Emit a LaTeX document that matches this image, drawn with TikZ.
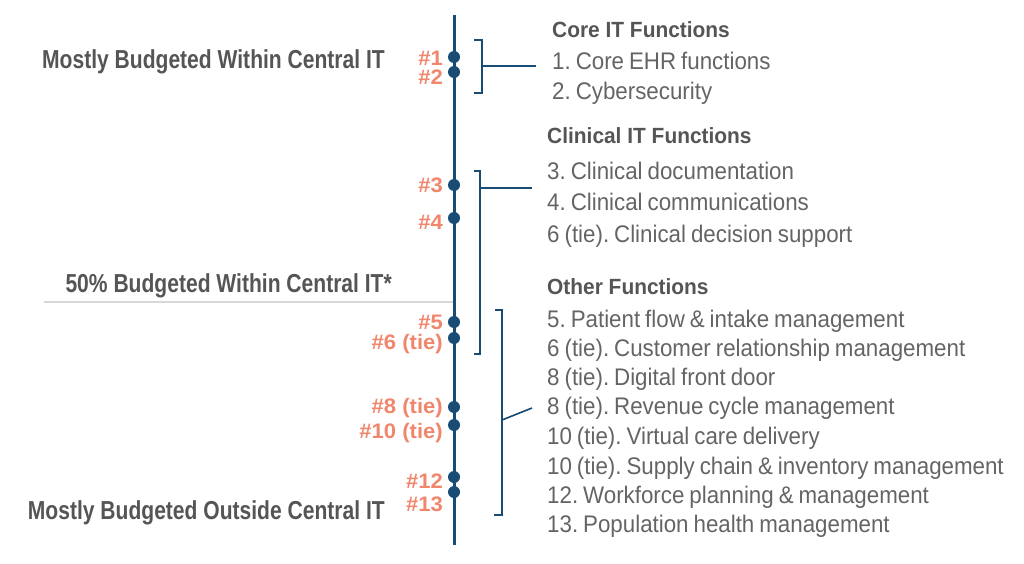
\documentclass[tikz,border=0pt]{standalone}
\usepackage{fontspec}
\setmainfont{Liberation Sans}
\frenchspacing
\newfontfamily\itemfnt[FakeStretch=0.93,WordSpace=0.8]{Liberation Sans}
\newfontfamily\sidefnt[FakeStretch=0.81]{Liberation Sans}
\newfontfamily\headfnt[FakeStretch=0.95]{Liberation Sans}
\newfontfamily\numfnt[FakeStretch=1.05]{Liberation Sans}
\definecolor{navy}{RGB}{24,76,116}
\definecolor{salmon}{RGB}{240,134,108}
\definecolor{dgray}{RGB}{85,85,85}
\definecolor{lgray}{RGB}{100,100,100}
\definecolor{sep}{RGB}{215,215,215}
\begin{document}
\begin{tikzpicture}[x=1pt,y=-1pt,
  dot/.style={circle,fill=navy,inner sep=0pt,minimum size=12pt},
  num/.style={anchor=base east,font=\numfnt\fontsize{21}{21}\selectfont\bfseries,text=salmon,inner sep=0pt},
  side/.style={anchor=base east,font=\sidefnt\fontsize{26}{26}\selectfont\bfseries,text=dgray,inner sep=0pt},
  head/.style={anchor=base west,font=\headfnt\fontsize{22}{22}\selectfont\bfseries,text=dgray,inner sep=0pt},
  item/.style={anchor=base west,font=\itemfnt\fontsize{24}{24}\selectfont\frenchspacing,text=lgray,inner sep=0pt},
  brk/.style={navy,line width=1.6pt}]
\useasboundingbox (0,0) rectangle (1024,564);
% separator
\draw[sep,line width=1.2pt] (44,302) -- (454,302);
% axis
\draw[navy,line width=3pt] (454,15) coordinate (top) -- (454,545) coordinate (bot);
% dots
\node[dot] (d1) at (454,57) {};
\node[dot] (d2) at (454,72) {};
\node[dot] (d3) at (454,185) {};
\node[dot] (d4) at (454,218) {};
\node[dot] (d5) at (454,322) {};
\node[dot] (d6) at (454,338) {};
\node[dot] (d8) at (454,407) {};
\node[dot] (d10) at (454,425) {};
\node[dot] (d12) at (454,477) {};
\node[dot] (d13) at (454,492) {};
% rank labels
\node[num] (n1) at (443,66) {\#1};
\node[num] (n2) at (443,85) {\#2};
\node[num] (n3) at (443,193) {\#3};
\node[num] (n4) at (443,229) {\#4};
\node[num] (n5) at (443,329) {\#5};
\node[num] (n6) at (443,349) {\#6 (tie)};
\node[num] (n8) at (443,413) {\#8 (tie)};
\node[num] (n10) at (443,438) {\#10 (tie)};
\node[num] (n12) at (443,488) {\#12};
\node[num] (n13) at (443,511) {\#13};
% side labels
\node[side] (s1) at (385,69) {Mostly Budgeted Within Central IT};
\node[side] (s2) at (392,292) {50\% Budgeted Within Central IT*};
\node[side] (s3) at (385,519) {Mostly Budgeted Outside Central IT};
% brackets
\draw[brk] (474,40) -- (482,40) -- (482,93) -- (474,93);
\draw[brk] (482,66) -- (536,66) coordinate (c1);
\draw[brk] (474,171) -- (480,171) -- (480,354) -- (474,354);
\draw[brk] (480,188) -- (532,188) coordinate (c2);
\draw[brk] (495,310) -- (502,310) -- (502,515) -- (494,515);
\draw[brk] (502,420) -- (532,408) coordinate (c3);
% headings
\node[head] (h1) at (552,38) {Core IT Functions};
\node[head] (h2) at (547,144) {Clinical IT Functions};
\node[head] (h3) at (547,294) {Other Functions};
% items
\node[item] (i1) at (552,70) {1. Core EHR functions};
\node[item] (i2) at (552,100) {2. Cybersecurity};
\node[item] (i3) at (547,179) {3. Clinical documentation};
\node[item] (i4) at (547,210) {4. Clinical communications};
\node[item] (i6a) at (547,242) {6 (tie). Clinical decision support};
\node[item] (i5) at (547,327) {5. Patient flow \& intake management};
\node[item] (i6b) at (547,356) {6 (tie). Customer relationship management};
\node[item] (i8a) at (547,385) {8 (tie). Digital front door};
\node[item] (i8b) at (547,414) {8 (tie). Revenue cycle management};
\node[item] (i10a) at (547,444) {10 (tie). Virtual care delivery};
\node[item] (i10b) at (547,474) {10 (tie). Supply chain \& inventory management};
\node[item] (i12) at (547,503) {12. Workforce planning \& management};
\node[item] (i13) at (547,532) {13. Population health management};
\end{tikzpicture}
\end{document}
